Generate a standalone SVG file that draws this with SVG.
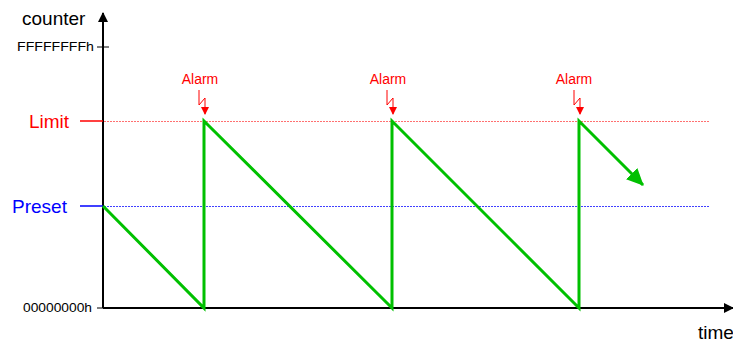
<svg xmlns="http://www.w3.org/2000/svg" width="733" height="342" viewBox="0 0 733 342">
<style>
text{font-family:"Liberation Sans",Arial,sans-serif}
.ax{stroke:#000;stroke-width:2;fill:none}
.lbl{font-size:19px;fill:#000}
.small{font-size:12px;fill:#000}
.alarm{font-size:14px;fill:#ff0000;text-anchor:middle}
.bolt{stroke:#ff0000;stroke-width:1;fill:none}
.green{stroke:#00c000;stroke-width:3;fill:none;stroke-linejoin:miter}
.rdot{stroke:#ff7070;stroke-width:1;stroke-dasharray:2,1;fill:none}
.bdot{stroke:#4040ff;stroke-width:1;stroke-dasharray:2,1;fill:none}
</style>
<defs>
<marker id="ah" markerWidth="10" markerHeight="10" refX="9" refY="5" orient="auto" markerUnits="userSpaceOnUse"><path d="M0,0 L10,5 L0,10 Z" fill="#000"/></marker>
<marker id="rh" markerWidth="8" markerHeight="8" refX="7" refY="4" orient="auto" markerUnits="userSpaceOnUse"><path d="M0,0 L8,4 L0,8 Z" fill="#ff0000"/></marker>
<marker id="gh" markerWidth="18" markerHeight="18" refX="16" refY="9" orient="auto" markerUnits="userSpaceOnUse"><path d="M0,1 L17,9 L0,17 Z" fill="#00c000"/></marker>
</defs>
<g id="axes">
<line class="ax" x1="103" y1="308" x2="103" y2="13" marker-end="url(#ah)"/>
<line class="ax" x1="103" y1="308" x2="733" y2="308" marker-end="url(#ah)"/>
<line stroke="#000" stroke-width="1" x1="97" y1="47" x2="109" y2="47"/>
<line stroke="#000" stroke-width="1" x1="97" y1="308" x2="103" y2="308"/>
<text class="lbl" x="22" y="25">counter</text>
<text class="lbl" x="698" y="339">time</text>
<text class="small" x="17" y="51" textLength="77" lengthAdjust="spacingAndGlyphs">FFFFFFFFh</text>
<text class="small" x="23" y="312" textLength="69" lengthAdjust="spacingAndGlyphs">00000000h</text>
</g>
<g id="limit">
<line stroke="#ff0000" stroke-width="1.5" x1="80" y1="121" x2="103" y2="121"/>
<path class="rdot" d="M104,121.5 H710"/>
<text x="29" y="128" font-size="19" fill="#ff0000">Limit</text>
</g>
<g id="preset">
<line stroke="#0000ff" stroke-width="1.5" x1="80" y1="206" x2="103" y2="206"/>
<path class="bdot" d="M104,206.5 H710"/>
<text x="12" y="213" font-size="19" fill="#0000ff">Preset</text>
</g>
<g id="alarm1">
<text class="alarm" x="200" y="84">Alarm</text>
<path class="bolt" d="M199,90 L199,105 L205,98 L205,114" marker-end="url(#rh)"/>
</g>
<g id="alarm2">
<text class="alarm" x="388" y="84">Alarm</text>
<path class="bolt" d="M387,90 L387,105 L393,98 L393,114" marker-end="url(#rh)"/>
</g>
<g id="alarm3">
<text class="alarm" x="574" y="84">Alarm</text>
<path class="bolt" d="M574,90 L574,105 L580,98 L580,114" marker-end="url(#rh)"/>
</g>
<g id="connectors">
<path class="green" d="M103,206 L204,308 L204,121 L392,308 L392,121 L579,308 L579,121 L643,185" marker-end="url(#gh)"/>
</g>
</svg>
